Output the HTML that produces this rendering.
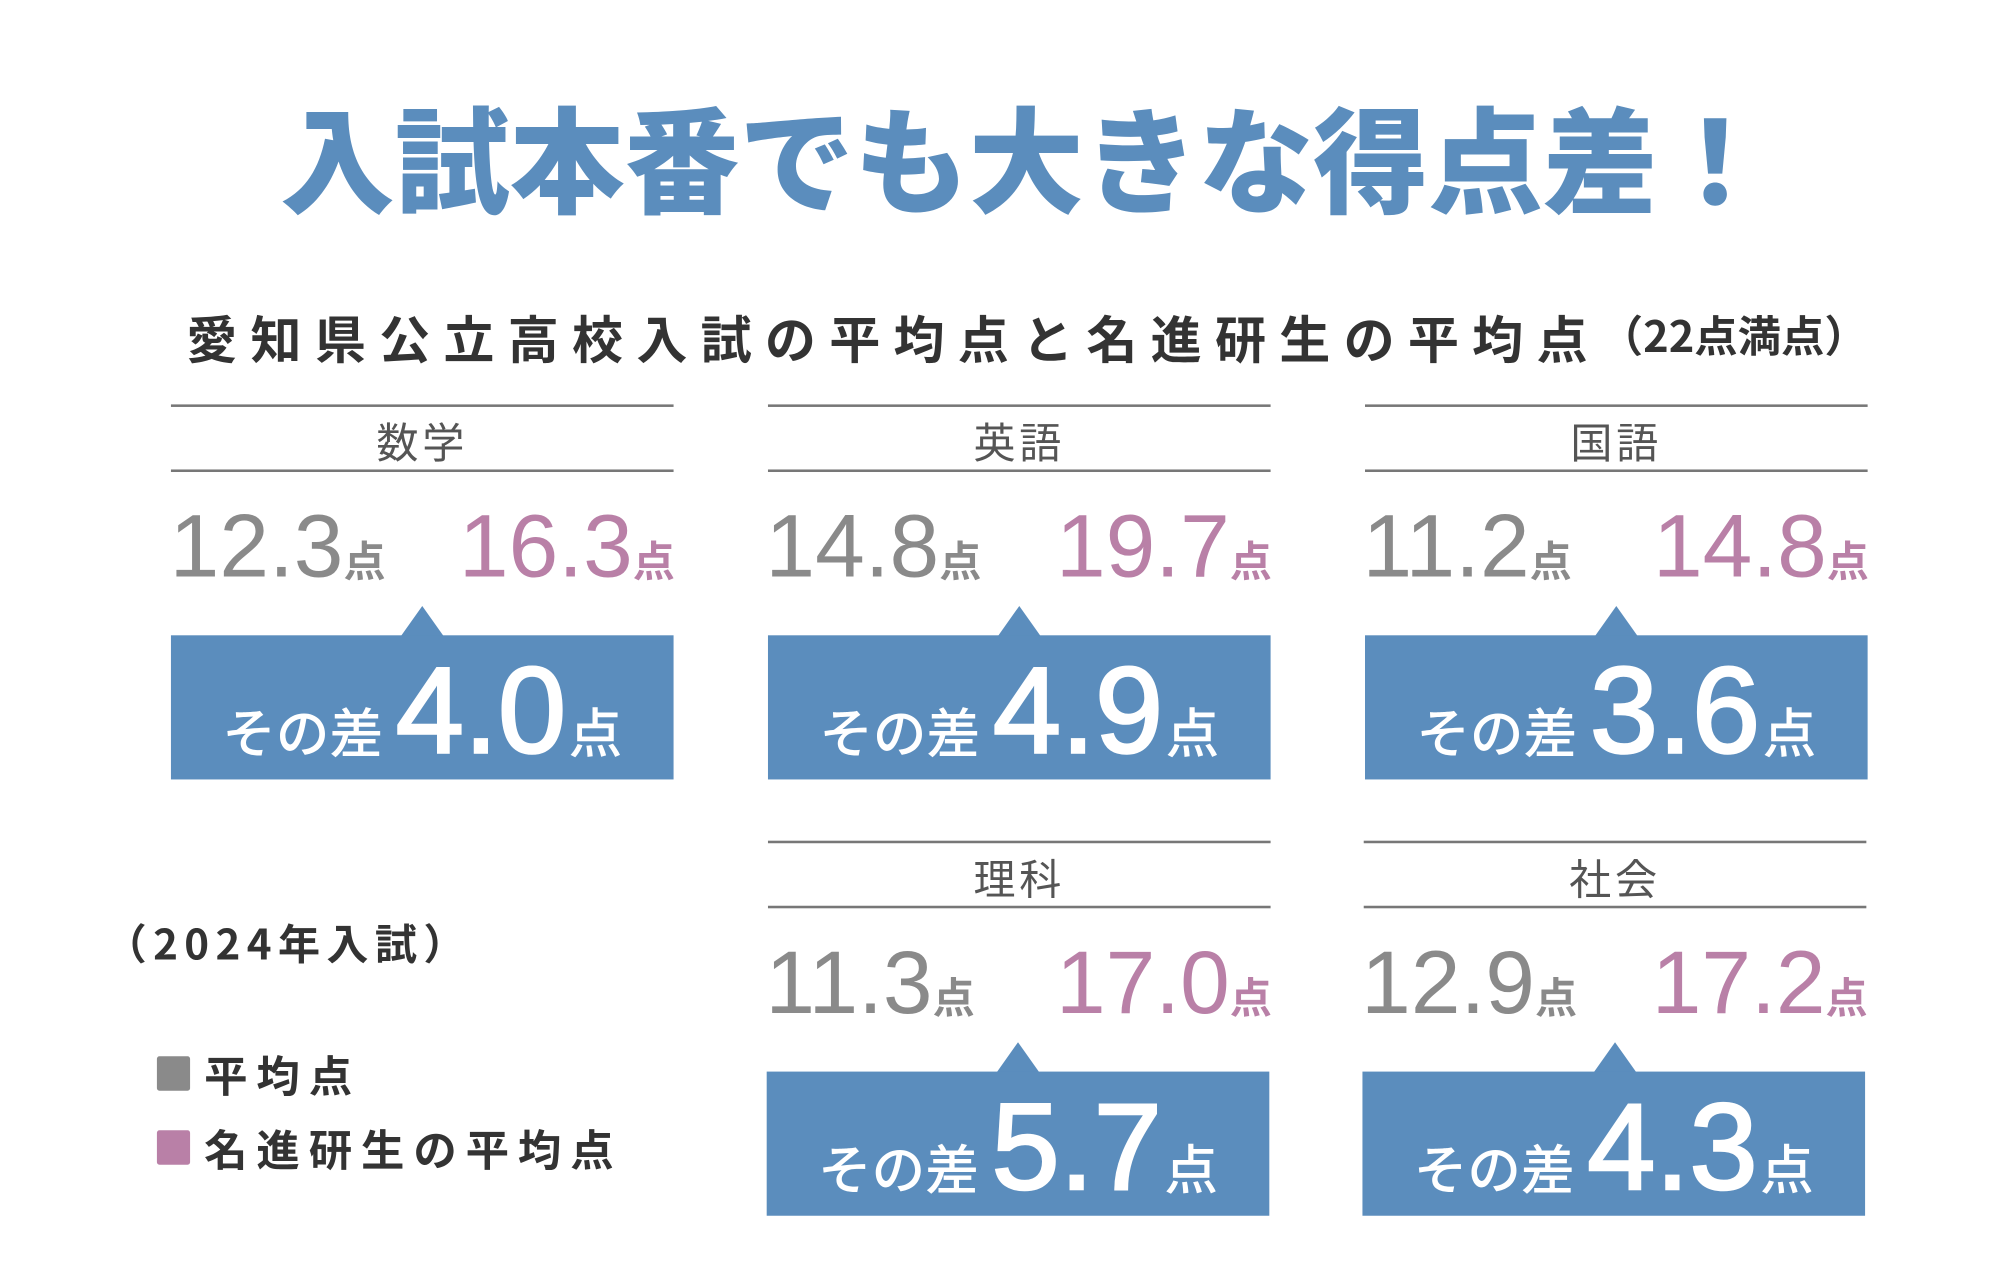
<!DOCTYPE html>
<html><head><meta charset="utf-8"><style>
html,body{margin:0;padding:0;background:#fff;}
body{width:2000px;height:1261px;overflow:hidden;position:relative;}
#w{position:absolute;left:0;top:0;width:1570px;height:990px;transform:scale(1.2757);transform-origin:0 0;font-family:"Liberation Sans","Noto Sans CJK JP",sans-serif;}
.a{position:absolute;white-space:nowrap;}
.title{left:12px;width:1585px;text-align:center;top:66px;font-size:90px;font-weight:900;color:#5b8dbd;font-family:"Noto Sans CJK JP",sans-serif;line-height:110px;letter-spacing:0px;}
.sub{left:146px;top:236px;font-size:40px;font-weight:700;color:#333;letter-spacing:10.4px;font-family:"Noto Sans CJK JP",sans-serif;line-height:56px;}
.sub2{left:1254px;top:240px;font-size:34px;font-weight:700;color:#333;font-family:"Noto Sans CJK JP",sans-serif;line-height:44px;}
.line{position:absolute;height:2px;background:#777;width:394px;}
.lab{position:absolute;width:394px;text-align:center;font-size:33px;color:#555;font-family:"Noto Sans CJK JP",sans-serif;line-height:40px;letter-spacing:3px;}
.num{position:absolute;font-size:70px;line-height:70px;font-family:"Liberation Sans",sans-serif;}
.num small{font-size:33px;font-family:"Noto Sans CJK JP",sans-serif;font-weight:700;}
.g{color:#8a8a8a;}
.p{color:#b980a7;text-align:right;}
.box{position:absolute;width:394px;height:113px;background:#5b8dbd;}
.tri{position:absolute;width:0;height:0;border-left:17px solid transparent;border-right:17px solid transparent;border-bottom:24px solid #5b8dbd;}
.bt{position:absolute;width:394px;text-align:center;color:#fff;top:10px;line-height:100px;}
.bt .s{font-size:42px;font-family:"Noto Sans CJK JP",sans-serif;font-weight:500;}
.bt .n{font-size:96px;font-family:"Liberation Sans",sans-serif;font-weight:400;margin:0 2px 0 10px;-webkit-text-stroke:2px #fff;}
.yr{left:82px;top:716px;font-size:33px;font-weight:700;color:#333;font-family:"Noto Sans CJK JP",sans-serif;letter-spacing:5px;line-height:44px;}
.lg{left:160px;font-size:34px;font-weight:700;color:#333;font-family:"Noto Sans CJK JP",sans-serif;letter-spacing:7px;line-height:40px;}
.sq{position:absolute;width:26px;height:27px;left:123px;border-radius:2px;}
</style></head><body><div id="w">
<div class="a title">入試本番でも大きな得点差！</div>
<div class="a sub">愛知県公立高校入試の平均点と名進研生の平均点</div>
<div class="a sub2">（22点満点）</div>

<div class="line" style="left:134px;top:317px"></div><div class="lab" style="left:134px;top:325px">数学</div><div class="line" style="left:134px;top:368px"></div>
<div class="num g" style="left:133px;top:393px">12.3<small>点</small></div>
<div class="num p" style="left:134px;width:395px;top:393px">16.3<small>点</small></div>
<div class="tri" style="left:314px;top:475px"></div><div class="box" style="left:134px;top:498px"><div class="bt"><span class="s">その差</span><span class="n">4.0</span><span class="s">点</span></div></div>

<div class="line" style="left:602px;top:317px"></div><div class="lab" style="left:602px;top:325px">英語</div><div class="line" style="left:602px;top:368px"></div>
<div class="num g" style="left:600px;top:393px">14.8<small>点</small></div>
<div class="num p" style="left:602px;width:395px;top:393px">19.7<small>点</small></div>
<div class="tri" style="left:782px;top:475px"></div><div class="box" style="left:602px;top:498px"><div class="bt"><span class="s">その差</span><span class="n">4.9</span><span class="s">点</span></div></div>

<div class="line" style="left:1070px;top:317px"></div><div class="lab" style="left:1070px;top:325px">国語</div><div class="line" style="left:1070px;top:368px"></div>
<div class="num g" style="left:1068px;top:393px">11.2<small>点</small></div>
<div class="num p" style="left:1070px;width:395px;top:393px">14.8<small>点</small></div>
<div class="tri" style="left:1250px;top:475px"></div><div class="box" style="left:1070px;top:498px"><div class="bt"><span class="s">その差</span><span class="n">3.6</span><span class="s">点</span></div></div>

<div class="line" style="left:602px;top:659px"></div><div class="lab" style="left:602px;top:667px">理科</div><div class="line" style="left:602px;top:710px"></div>
<div class="num g" style="left:600px;top:735px">11.3<small>点</small></div>
<div class="num p" style="left:602px;width:395px;top:735px">17.0<small>点</small></div>
<div class="tri" style="left:781px;top:817px"></div><div class="box" style="left:601px;top:840px"><div class="bt"><span class="s">その差</span><span class="n">5.7</span><span class="s">点</span></div></div>

<div class="line" style="left:1069px;top:659px"></div><div class="lab" style="left:1069px;top:667px">社会</div><div class="line" style="left:1069px;top:710px"></div>
<div class="num g" style="left:1067px;top:735px">12.9<small>点</small></div>
<div class="num p" style="left:1069px;width:395px;top:735px">17.2<small>点</small></div>
<div class="tri" style="left:1249px;top:817px"></div><div class="box" style="left:1068px;top:840px"><div class="bt"><span class="s">その差</span><span class="n">4.3</span><span class="s">点</span></div></div>

<div class="a yr">（2024年入試）</div>
<div class="sq" style="top:828px;background:#8a8a8a"></div><div class="a lg" style="top:822px">平均点</div>
<div class="sq" style="top:886px;background:#b980a7"></div><div class="a lg" style="top:880px">名進研生の平均点</div>
</div></body></html>
